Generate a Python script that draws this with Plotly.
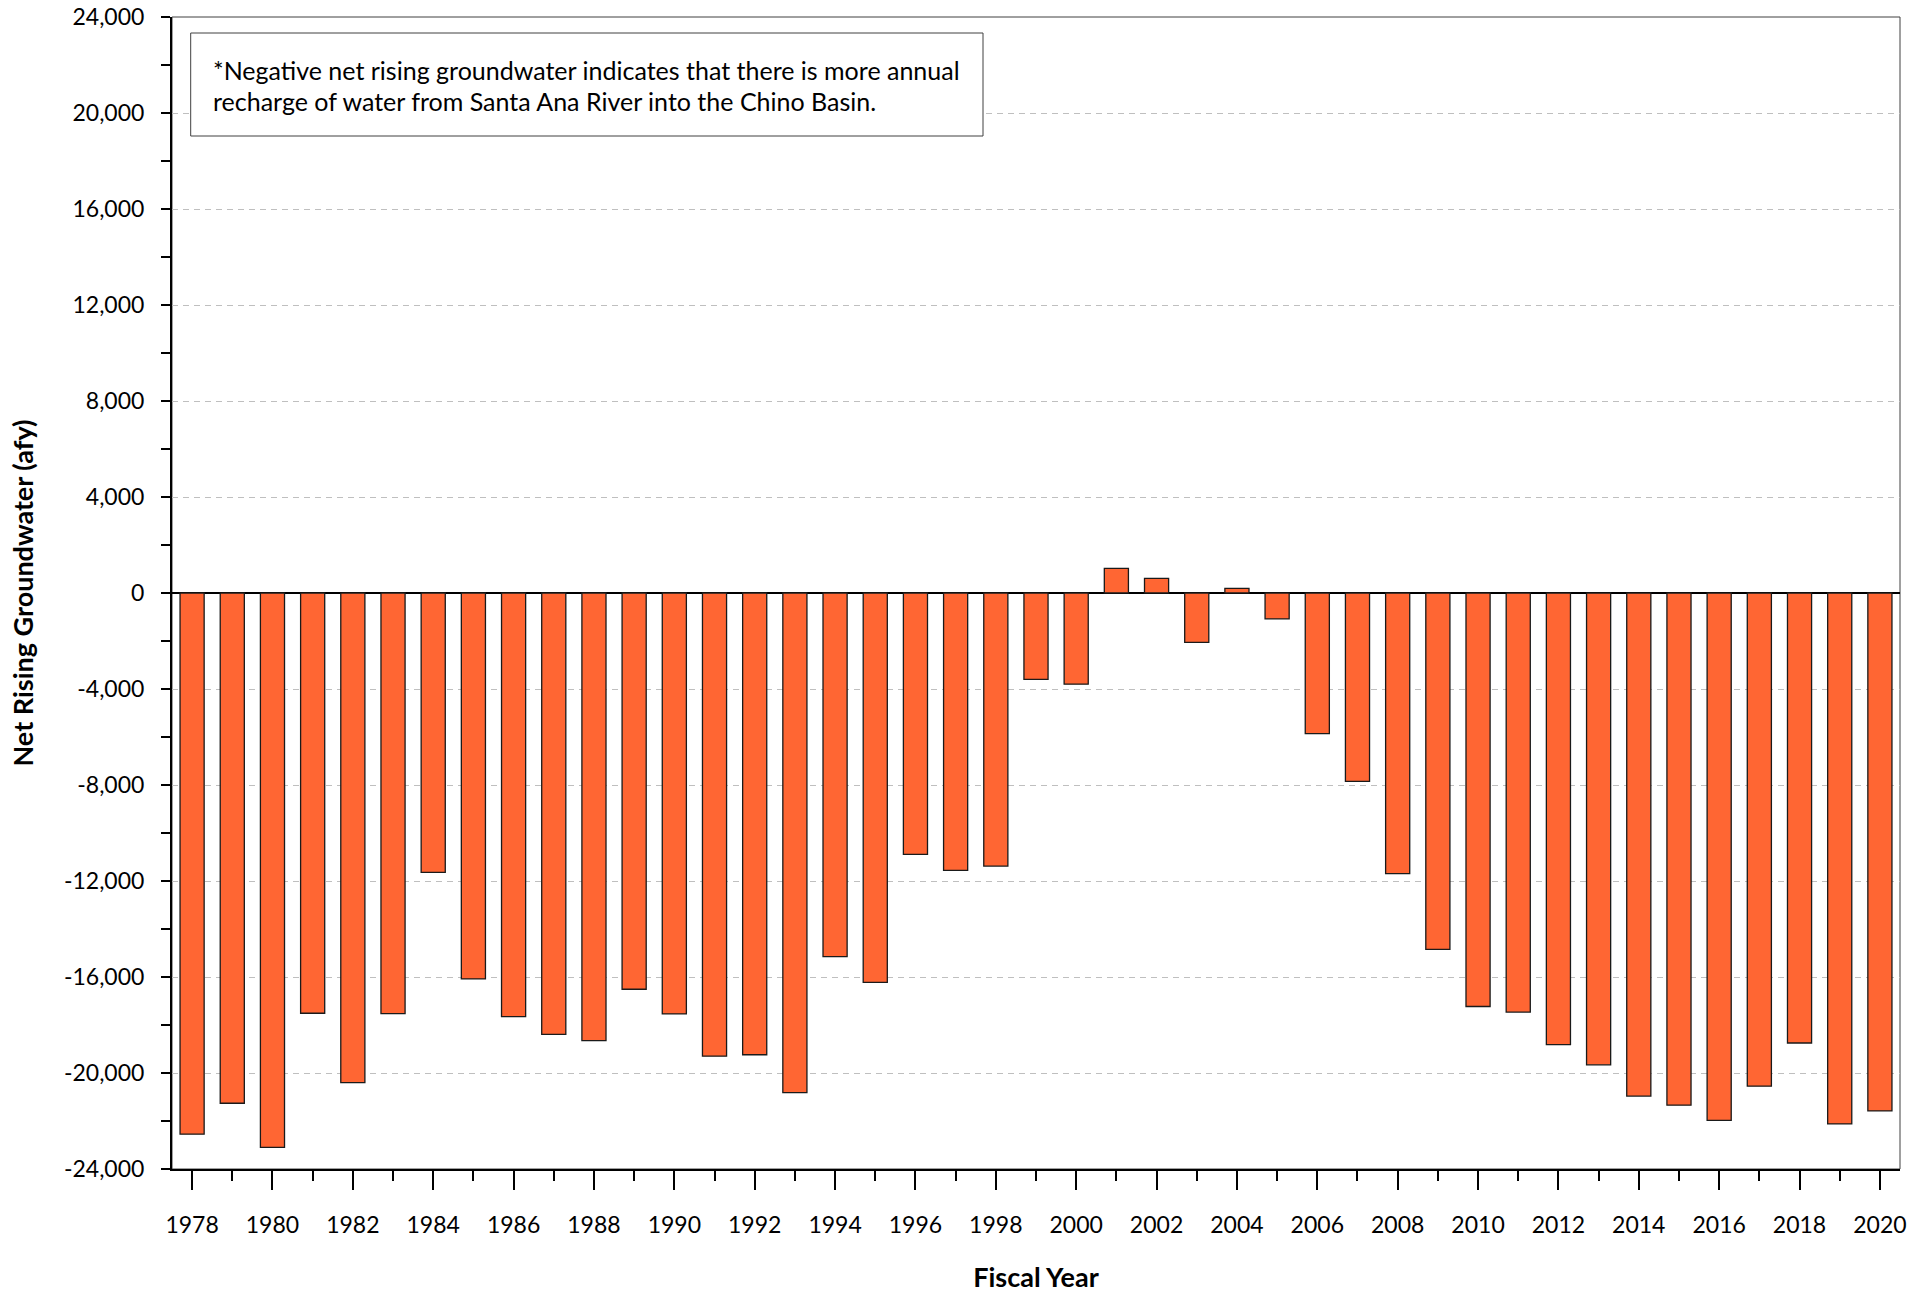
import plotly.graph_objects as go

# Fiscal years and net rising groundwater (acre-feet per year)
years = list(range(1978, 2021))
net_rising_gw = [
    -22550, -21260, -23100, -17510, -20400, -17530, -11640, -16080, -17650, -18390,
    -18650, -16510, -17540, -19300, -19240, -20820, -15150, -16220, -10890, -11560,
    -11380, -3600, -3800, 1030, 610, -2060, 190, -1080, -5860, -7850,
    -11690, -14850, -17230, -17460, -18820, -19660, -20960, -21340, -21970, -20550,
    -18750, -22120, -21580,
]

y_tick_vals = [-24000, -20000, -16000, -12000, -8000, -4000, 0,
               4000, 8000, 12000, 16000, 20000, 24000]
y_tick_text = ["-24,000", "-20,000", "-16,000", "-12,000", "-8,000", "-4,000", "0",
               "4,000", "8,000", "12,000", "16,000", "20,000", "24,000"]
x_tick_vals = [y for y in years if y % 2 == 0]
x_tick_text = [str(y) for y in x_tick_vals]
x_minor_vals = [y for y in years if y % 2 == 1]

note_lines = [
    "*Negative net rising groundwater indicates that there is more annual",
    "recharge of water from Santa Ana River into the Chino Basin.",
]

FONT = "Lato, Calibri, Carlito, sans-serif"

# plotting-area geometry in pixels
W, H = 1931, 1293
ML, MR, MT, MB = 172, 31, 17, 124
PW, PH = W - ML - MR, H - MT - MB


def px_x(x):
    return (x - ML) / PW


def px_y(y):
    return 1 - (y - MT) / PH


fig = go.Figure()
fig.add_trace(go.Bar(
    x=years,
    y=net_rising_gw,
    width=0.6,
    marker=dict(color="#FF6633", line=dict(color="#1a1a1a", width=1.3)),
    showlegend=False,
))

fig.update_layout(
    width=W,
    height=H,
    margin=dict(l=ML, r=MR, t=MT, b=MB),
    paper_bgcolor="white",
    plot_bgcolor="white",
    font=dict(family=FONT, size=23, color="black"),
    xaxis=dict(
        range=[1977.5, 2020.5],
        automargin=False,
        tickmode="array",
        tickvals=x_tick_vals,
        ticktext=x_tick_text,
        ticks="outside",
        ticklen=19,
        tickwidth=2,
        tickcolor="black",
        minor=dict(tickmode="array", tickvals=x_minor_vals, ticks="outside",
                   ticklen=10, tickwidth=2, tickcolor="black", showgrid=False),
        showline=True,
        linecolor="black",
        linewidth=2,
        showgrid=False,
        zeroline=False,
        ticklabelstandoff=15,
        title=dict(text="<b>Fiscal Year</b>", font=dict(size=27), standoff=32),
    ),
    yaxis=dict(
        range=[-24000, 24000],
        automargin=False,
        tickmode="array",
        tickvals=y_tick_vals,
        ticktext=y_tick_text,
        ticks="outside",
        ticklen=9,
        tickwidth=2,
        tickcolor="black",
        minor=dict(dtick=2000, tick0=0, ticks="outside", ticklen=9, tickwidth=2,
                   tickcolor="black", showgrid=False),
        showline=True,
        linecolor="black",
        linewidth=2,
        showgrid=True,
        gridcolor="#BFBFBF",
        gridwidth=1,
        griddash="6px,5px",
        zeroline=True,
        zerolinecolor="black",
        zerolinewidth=1.5,
        ticklabelstandoff=12,
        title=dict(text="<b>Net Rising Groundwater (afy)</b>", font=dict(size=27), standoff=22),
    ),
)

# thin frame around the plotting area (top and right edges)
fig.add_shape(type="rect", xref="paper", yref="paper", x0=0, x1=1, y0=0, y1=1,
              line=dict(color="#404040", width=1), layer="below")

# explanatory note in a white box
fig.add_shape(type="rect", xref="paper", yref="paper",
              x0=px_x(190.7), x1=px_x(983), y0=px_y(136), y1=px_y(33),
              line=dict(color="#404040", width=1), fillcolor="white", layer="above")
for line_text, y_px in zip(note_lines, [70, 101]):
    fig.add_annotation(
        xref="paper", yref="paper", x=px_x(211), y=px_y(y_px),
        xanchor="left", yanchor="middle", align="left",
        text=line_text, showarrow=False,
        font=dict(family=FONT, size=25, color="black"),
    )

fig.write_html("out.html")
